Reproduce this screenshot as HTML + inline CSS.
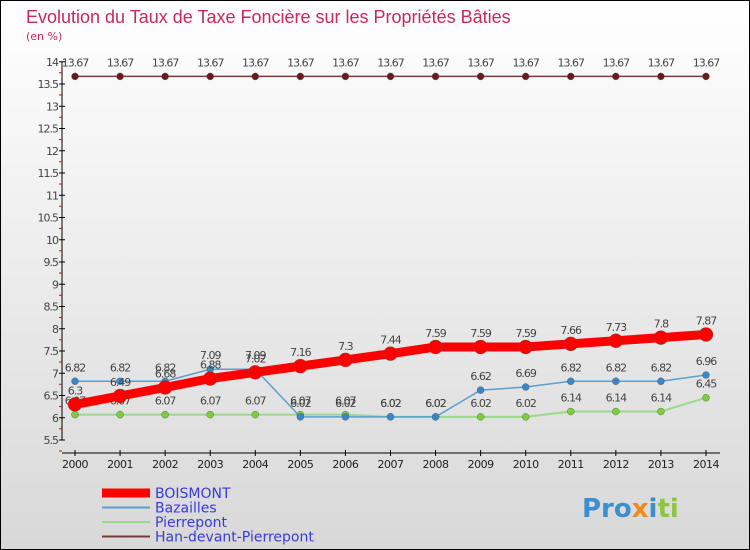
<!DOCTYPE html>
<html><head><meta charset="utf-8"><style>
body{margin:0}
#c{width:750px;height:550px;position:relative;overflow:hidden;font-family:"DejaVu Sans","Liberation Sans",sans-serif;}
</style></head><body>
<div id="c">
<svg id="s" width="750" height="550" xmlns="http://www.w3.org/2000/svg">
<defs><linearGradient id="bg" x1="0" y1="0" x2="0" y2="1"><stop offset="0" stop-color="#ffffff"/><stop offset="1" stop-color="#d8d8d8"/></linearGradient></defs>
<rect x="0.5" y="0.5" width="749" height="549" fill="url(#bg)" stroke="#000"/>
<text x="26" y="23" font-size="18" font-family="Liberation Sans, sans-serif" fill="#c8285a">Evolution du Taux de Taxe Foncière sur les Propriétés Bâties</text>
<text x="26" y="40" font-size="11" fill="#c8285a">(en %)</text>
<g id="axes"></g><g id="series"></g><g id="legend"></g>
<text x="582" y="517" font-size="26" font-weight="bold" fill="#3a8fd0">Pro<tspan fill="#f08a1c">x</tspan><tspan fill="#3a8fd0">i</tspan><tspan fill="#8cc63f">ti</tspan></text>
</svg>
</div>
<script>
const years=[2000,2001,2002,2003,2004,2005,2006,2007,2008,2009,2010,2011,2012,2013,2014];
const boismont=[6.3,6.49,6.68,6.88,7.02,7.16,7.3,7.44,7.59,7.59,7.59,7.66,7.73,7.8,7.87];
const bazailles=[6.82,6.82,6.82,7.09,7.09,6.02,6.02,6.02,6.02,6.62,6.69,6.82,6.82,6.82,6.96];
const pierrepont=[6.07,6.07,6.07,6.07,6.07,6.07,6.07,6.02,6.02,6.02,6.02,6.14,6.14,6.14,6.45];
const han=[13.67,13.67,13.67,13.67,13.67,13.67,13.67,13.67,13.67,13.67,13.67,13.67,13.67,13.67,13.67];
const yTicks=[5.5,6,6.5,7,7.5,8,8.5,9,9.5,10,10.5,11,11.5,12,12.5,13,13.5,14];
const NS="http://www.w3.org/2000/svg";
const X=i=>75+i*45.07, Y=v=>440-(v-5.5)*44.5;
function mk(t,a,p){const e=document.createElementNS(NS,t);for(const k in a)e.setAttribute(k,a[k]);p.appendChild(e);return e;}
const ax=document.getElementById('axes');
let e=mk('line',{x1:62,y1:Y(14),x2:62,y2:Y(5.5),stroke:'#000'},ax);

e=mk('line',{x1:62,y1:Y(5.5)+13,x2:720,y2:Y(5.5)+13,stroke:'#000'},ax);

yTicks.forEach(v=>{
 mk('line',{x1:59,y1:Y(v),x2:65,y2:Y(v),stroke:'#000'},ax);
 mk('line',{x1:59,y1:Y(v)+11,x2:62,y2:Y(v)+11,stroke:'#e00'},ax);
 const t=mk('text',{x:58,y:Y(v)+4,'font-size':11,'text-anchor':'end',fill:'#444','letter-spacing':'-1'},ax);
 t.textContent=v;
});
years.forEach((y,i)=>{
 mk('line',{x1:X(i),y1:Y(5.5)+10,x2:X(i),y2:Y(5.5)+16,stroke:'#000'},ax);
 const t=mk('text',{x:X(i),y:Y(5.5)+28,'font-size':11,'text-anchor':'middle',fill:'#222','letter-spacing':'-0.5'},ax);
 t.textContent=y;
});
const sg=document.getElementById('series');
function series(name,vals,color,w,r,dot){
 const g=mk('g',{},sg);
 const l=mk('polyline',{points:vals.map((v,i)=>X(i)+','+Y(v)).join(' '),fill:'none',stroke:color,'stroke-width':w},g);
 
 vals.forEach((v,i)=>{
  const c=mk('circle',{cx:X(i),cy:Y(v),r:r,fill:dot,stroke:'#555','stroke-width':0.4},g);
  
  const t=mk('text',{x:X(i),y:Y(v)-10,'font-size':11,'text-anchor':'middle',fill:'#444','letter-spacing':'-1'},g);
  t.textContent=v;
 });
}
series('han',han,'#7a3a3a',1.5,3.5,'#6b1a1a');
series('pierrepont',pierrepont,'#9ad88a',2,3.5,'#7ccf3a');
series('bazailles',bazailles,'#5a9fd0',1.5,3.5,'#3a86c8');
series('boismont',boismont,'#f00',9,7,'#f00');
const lg=document.getElementById('legend');
const items=[['BOISMONT','#f00',9],['Bazailles','#5a9fd0',2],['Pierrepont','#9ad88a',2],['Han-devant-Pierrepont','#7a3a3a',2]];
items.forEach((it,i)=>{
 const y=493+i*14.5;
 const l=mk('line',{x1:102,y1:y,x2:150,y2:y,stroke:it[1],'stroke-width':it[2]},lg);
 
 const t=mk('text',{x:155,y:y+5,'font-size':14,fill:'#3a3adc'},lg);
 t.textContent=it[0];
});
</script>
</body></html>
